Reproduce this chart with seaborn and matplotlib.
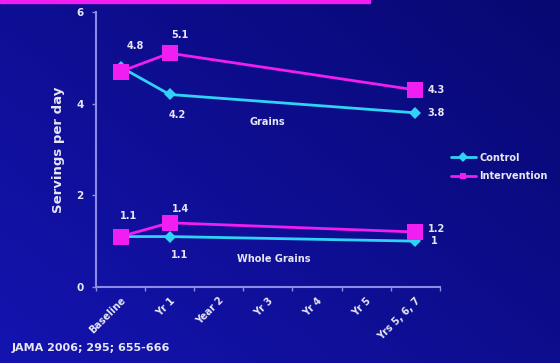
import numpy as np
import pandas as pd
import matplotlib
matplotlib.use("Agg")
import matplotlib.pyplot as plt
import seaborn as sns

# Time points on the x axis
categories = ["Baseline", "Yr 1", "Year 2", "Yr 3", "Yr 4", "Yr 5", "Yrs 5, 6, 7"]

# Servings per day (NaN where no measurement)
grains_control = [4.8, 4.2, np.nan, np.nan, np.nan, np.nan, 3.8]
grains_intervention = [4.7, 5.1, np.nan, np.nan, np.nan, np.nan, 4.3]
whole_control = [1.1, 1.1, np.nan, np.nan, np.nan, np.nan, 1.0]
whole_intervention = [1.1, 1.4, np.nan, np.nan, np.nan, np.nan, 1.2]

# Value labels shown next to points
grains_labels_control = ["4.8", "4.2", "3.8"]
grains_labels_intervention = ["5.1", "4.3"]
whole_labels_control = ["1.1", "1"]
whole_labels_intervention = ["1.1", "1.4", "1.2"]

BG = "#0C0C96"
AXIS = "#8C8CE6"
TXT = "#E6E6F5"
CYAN = "#2ED3F5"
MAGENTA = "#F01EF0"

sns.set_theme(style="white")
plt.rcParams["font.family"] = ["DejaVu Sans"]

def long_frame(control, intervention):
    rows = []
    for i in range(len(categories)):
        rows.append({"x": i, "value": control[i], "group": "Control"})
        rows.append({"x": i, "value": intervention[i], "group": "Intervention"})
    return pd.DataFrame(rows).dropna()

grains = long_frame(grains_control, grains_intervention)
whole = long_frame(whole_control, whole_intervention)

fig = plt.figure(figsize=(5.6, 3.63), dpi=100, facecolor=BG)

# Slide-style background: brighter blue on the left, deeper toward the top right
bg_ax = fig.add_axes([0, 0, 1, 1], zorder=-10)
gx, gy = np.meshgrid(np.linspace(0, 1, 200), np.linspace(0, 1, 130))
shade = 0.55 * gx + 0.45 * gy
c_lo = np.array([0x14, 0x14, 0xB0]) / 255
c_hi = np.array([0x08, 0x08, 0x72]) / 255
img = c_lo[None, None, :] * (1 - shade[..., None]) + c_hi[None, None, :] * shade[..., None]
bg_ax.imshow(img, origin="lower", aspect="auto", extent=[0, 1, 0, 1], interpolation="bilinear")
bg_ax.set_axis_off()

ax = fig.add_axes([0.1714, 0.2094, 0.614, 0.7576])
ax.patch.set_alpha(0)

palette = {"Control": CYAN, "Intervention": MAGENTA}
markers = {"Control": "D", "Intervention": "s"}

for df, show_legend in ((grains, True), (whole, False)):
    sns.lineplot(data=df, x="x", y="value", hue="group", style="group",
                 palette=palette, markers=markers, dashes=False,
                 estimator=None, sort=True, linewidth=2,
                 markeredgewidth=0, ax=ax, legend=show_legend)

# Marker sizes per series
for line in ax.get_lines():
    if matplotlib.colors.to_hex(line.get_color()).upper() == CYAN.upper():
        line.set_markersize(6.5)
    else:
        line.set_markersize(11)

ax.set_xlim(-0.5, 6.5)
ax.set_ylim(0, 6)
ax.set_yticks([0, 2, 4, 6])
ax.set_xticks(range(len(categories)))
ax.set_xticklabels(categories, rotation=45, ha="right", rotation_mode="anchor",
                   fontsize=7, fontweight="bold", color=TXT)
ax.tick_params(axis="x", which="major", length=0, pad=6)
ax.set_xticks(np.arange(-0.5, 6.6, 1), minor=True)
ax.tick_params(axis="x", which="minor", bottom=True, length=3, width=1,
               color=AXIS, direction="out")
ax.tick_params(axis="y", left=True, length=3, width=1, color=AXIS,
               labelsize=7.5, labelcolor=TXT, pad=6)
for lab in ax.get_yticklabels():
    lab.set_fontweight("bold")
for side in ("top", "right"):
    ax.spines[side].set_visible(False)
for side in ("left", "bottom"):
    ax.spines[side].set_color(AXIS)
    ax.spines[side].set_linewidth(1.5)

ax.set_xlabel("")
ax.set_ylabel("Servings per day", color=TXT, fontsize=9.5, fontweight="bold", labelpad=8)

kw = dict(color=TXT, fontsize=7, fontweight="bold", ha="center", va="center")
# Grains labels
ax.text(0.3, grains_control[0] + 0.45, grains_labels_control[0], **kw)
ax.text(1.2, grains_intervention[1] + 0.4, grains_labels_intervention[0], **kw)
ax.text(1.15, grains_control[1] - 0.45, grains_labels_control[1], **kw)
ax.text(6.43, grains_intervention[6], grains_labels_intervention[1], **kw)
ax.text(6.43, grains_control[6], grains_labels_control[2], **kw)
ax.text(2.99, 3.6, "Grains", **kw)
# Whole grain labels
ax.text(0.16, whole_intervention[0] + 0.45, whole_labels_intervention[0], **kw)
ax.text(1.22, whole_intervention[1] + 0.3, whole_labels_intervention[1], **kw)
ax.text(1.2, whole_control[1] - 0.4, whole_labels_control[0], **kw)
ax.text(6.43, whole_intervention[6] + 0.07, whole_labels_intervention[2], **kw)
ax.text(6.38, whole_control[6], whole_labels_control[1], **kw)
ax.text(3.11, 0.6, "Whole Grains", **kw)

leg = ax.legend(loc="upper left", bbox_to_anchor=(1.015, 0.51), frameon=False,
                fontsize=7, handlelength=2.6, handletextpad=0.3, labelspacing=0.9,
                borderaxespad=0.2, title=None)
for t in leg.get_texts():
    t.set_color(TXT)
    t.set_fontweight("bold")
for h in leg.legend_handles:
    h.set_markersize(5)

# Accent bar along the top edge
fig.patches.append(matplotlib.patches.Rectangle((0, 0.991), 0.66, 0.009,
                   transform=fig.transFigure, color=MAGENTA, zorder=5))

fig.text(0.021, 0.04, "JAMA 2006; 295; 655-666", color=TXT, fontsize=8,
         fontweight="bold", ha="left", va="center")

fig.savefig("out.png", dpi=100, facecolor=BG)
